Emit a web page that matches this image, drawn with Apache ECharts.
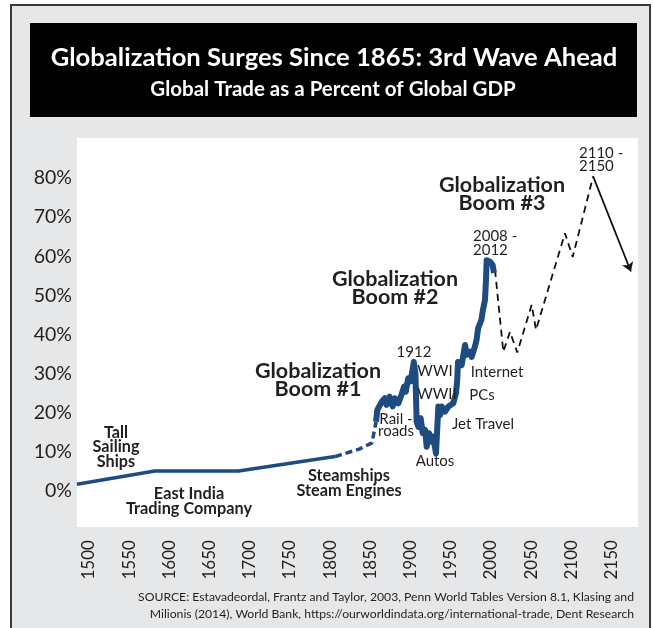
<!DOCTYPE html>
<html>
<head>
<meta charset="utf-8">
<script src="https://cdn.jsdelivr.net/npm/echarts@6/dist/echarts.min.js"></script>
<style>
html,body{margin:0;padding:0;background:#fff;}
#chart{width:654px;height:628px;}
</style>
</head>
<body>
<div id="chart"></div>
<script>
// ---- data (year, % of global GDP) ----
const earlyYears  = [1485, 1582, 1686, 1806];
const earlyValues = [1.7, 5.1, 5.1, 8.8];

const bridgeYears  = [1806, 1836, 1852, 1857];
const bridgeValues = [8.8, 10.7, 12.3, 17.7];

const mainYears  = [1857, 1858.6, 1864, 1868, 1870, 1874, 1877.7, 1880.6, 1884.7, 1889, 1892, 1894, 1897, 1900, 1904, 1906, 1907.5, 1909.6, 1912.5, 1915, 1918, 1920, 1923, 1926, 1928, 1931.6, 1934.5, 1936.6, 1938.7, 1942.8, 1947, 1953, 1956.5, 1958, 1959, 1963.5, 1967.7, 1969.8, 1974, 1976, 1980, 1982, 1984, 1988, 1990, 1992.5, 1993.8, 1994.6, 1998.8, 2002, 2003.7];
const mainValues = [17.7, 20.7, 22.8, 23.7, 22, 24.1, 21.6, 23.7, 22.4, 24.8, 26.7, 25.4, 28.8, 28, 33, 30, 17.7, 16.4, 18.6, 14.8, 15.6, 11.3, 14.8, 12.6, 13.9, 9.6, 21.6, 19.4, 21.6, 20.3, 21.6, 22.4, 25, 28.4, 33, 32.2, 37.3, 34.8, 35.6, 34.3, 36.9, 38.6, 41.6, 43.7, 46.3, 48.8, 54, 59, 58.6, 57.8, 55.7];

const forecastYears  = [2005, 2015.3, 2023.6, 2032.7, 2050.6, 2056, 2092, 2101.6, 2127];
const forecastValues = [56.5, 35.6, 40.7, 35.4, 47.6, 41.2, 65.9, 59.8, 80.4];

const arrowYears  = [2127, 2174];
const arrowValues = [80.4, 56.1];

const xTickLabels = ['1500','1550','1600','1650','1700','1750','1800','1850','1900','1950','2000','2050','2100','2150'];
const yTickLabels = ['0%','10%','20%','30%','40%','50%','60%','70%','80%'];

const zip = (xs, ys) => xs.map((x, i) => [x, ys[i]]);

const FONT = 'Lato';
const TXT = '#231f20';
const BLUE = '#1e4b80';

function txt(x, y, text, size, weight, align, lh) {
  return {
    type: 'text', x: x, y: y, z: 10,
    style: {
      text: text, fill: TXT,
      fontFamily: FONT, fontSize: size, fontWeight: weight || 'normal',
      align: align || 'center', verticalAlign: 'middle', lineHeight: lh || size
    }
  };
}

const chart = echarts.init(document.getElementById('chart'), null, {renderer: 'canvas'});
chart.setOption({
  animation: false,
  backgroundColor: '#ffffff',
  textStyle: {fontFamily: FONT},
  graphic: [
    {type: 'rect', z: -5, shape: {x: 11, y: 5, width: 639, height: 640},
     style: {fill: '#e6e7e8', stroke: '#3a3a3a', lineWidth: 2}},
    {type: 'rect', z: -4, shape: {x: 30, y: 23, width: 607, height: 94}, style: {fill: '#000'}},
    {type: 'rect', z: -4, shape: {x: 77, y: 138, width: 561, height: 389}, style: {fill: '#fff'}},
    {type: 'text', x: 334, y: 58, z: 10, style: {text: 'Globalization Surges Since 1865: 3rd Wave Ahead', fill: '#fff', fontFamily: FONT, fontSize: 25.6, fontWeight: 'bold', align: 'center', verticalAlign: 'middle'}},
    {type: 'text', x: 333, y: 89, z: 10, style: {text: 'Global Trade as a Percent of Global GDP', fill: '#fff', fontFamily: FONT, fontSize: 20.5, fontWeight: 'bold', align: 'center', verticalAlign: 'middle'}},
    txt(116, 447, 'Tall\nSailing\nShips', 16.2, 'bold', 'center', 14.5),
    txt(189, 501, 'East India\nTrading Company', 16.3, 'bold', 'center', 14.5),
    txt(349, 483, 'Steamships\nSteam Engines', 16.3, 'bold', 'center', 15),
    txt(318, 380, 'Globalization\nBoom #1', 21.5, 'bold', 'center', 18),
    txt(395, 288, 'Globalization\nBoom #2', 21.5, 'bold', 'center', 18),
    txt(502, 194, 'Globalization\nBoom #3', 21.5, 'bold', 'center', 18),
    txt(396, 425, 'Rail -\nroads', 15, 'normal', 'center', 12.5),
    txt(435, 461, 'Autos', 15),
    txt(414, 352, '1912', 15),
    txt(435, 371, 'WWI', 15),
    txt(437, 394, 'WWII', 15),
    txt(483, 424, 'Jet Travel', 15),
    txt(482, 395, 'PCs', 15),
    txt(497, 372, 'Internet', 15),
    txt(473, 243, '2008 -\n2012', 15, 'normal', 'left', 13.5),
    txt(579, 160, '2110 -\n2150', 15, 'normal', 'left', 13),
    txt(634, 597, 'SOURCE: Estavadeordal, Frantz and Taylor, 2003, Penn World Tables Version 8.1, Klasing and', 12.2, 'normal', 'right'),
    txt(634, 614, 'Milionis (2014), World Bank, https://ourworldindata.org/international-trade, Dent Research', 12.2, 'normal', 'right')
  ],
  grid: {left: 48.8, right: 2.2, top: 138.9, bottom: 97.9, containLabel: false, outerBoundsMode: 'none'},
  xAxis: {
    type: 'value', min: 1450, max: 2200, interval: 50,
    axisLine: {show: false, onZero: false}, axisTick: {show: false}, splitLine: {show: false},
    axisLabel: {rotate: 90, margin: 10, fontSize: 17, color: TXT, fontFamily: FONT,
      showMinLabel: false, showMaxLabel: false,
      formatter: (v) => {
        const i = Math.round((v - 1500) / 50);
        return (i >= 0 && i < xTickLabels.length) ? xTickLabels[i] : '';
      }}
  },
  yAxis: {
    type: 'value', min: -10, max: 90, interval: 10, offset: -40.2,
    axisLine: {show: false, onZero: false}, axisTick: {show: false}, splitLine: {show: false},
    axisLabel: {margin: 17, fontSize: 19.5, color: TXT, fontFamily: FONT,
      showMinLabel: false, showMaxLabel: false,
      formatter: (v) => {
        const i = Math.round(v / 10);
        return (i >= 0 && i < yTickLabels.length) ? yTickLabels[i] : '';
      }}
  },
  series: [
    {type: 'line', data: zip(earlyYears, earlyValues), clip: false, symbol: 'none',
     lineStyle: {color: BLUE, width: 3.5}, z: 3},
    {type: 'line', data: zip(bridgeYears, bridgeValues), clip: false, symbol: 'none',
     lineStyle: {color: BLUE, width: 3.5, type: [7, 4]}, z: 3},
    {type: 'line', data: zip(mainYears, mainValues), clip: false, symbol: 'none',
     lineStyle: {color: BLUE, width: 6, join: 'round'}, z: 4},
    {type: 'line', data: zip(forecastYears, forecastValues), clip: false, symbol: 'none',
     lineStyle: {color: '#111', width: 1.8, type: [7, 5]}, z: 3,
     markLine: {silent: true, symbol: ['none', 'arrow'], symbolSize: 9, label: {show: false},
       lineStyle: {color: '#111', width: 1.8, type: 'solid'},
       data: [[{coord: [arrowYears[0], arrowValues[0]]}, {coord: [arrowYears[1], arrowValues[1]]}]]}}
  ]
});
</script>
</body>
</html>
